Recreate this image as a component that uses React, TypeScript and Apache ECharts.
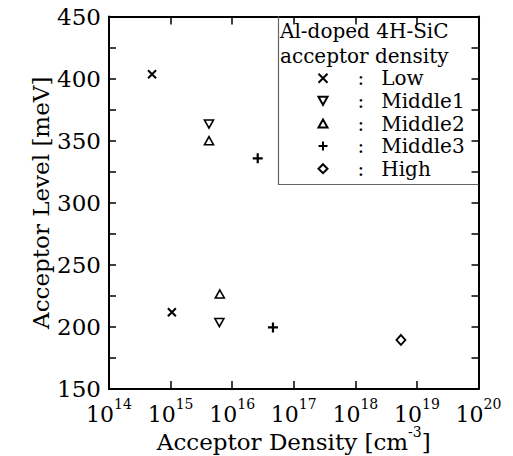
import React, { useEffect, useRef } from "react";
import * as echarts from "echarts";

const FONT = "DejaVu Serif";

// Series values: [acceptor density (cm^-3), acceptor level (meV)]
const lowData = [
  [5.0e14, 403.5],
  [1.05e15, 211.8],
];
const middle1Data = [
  [4.2e15, 363.4],
  [6.2e15, 203.5],
];
const middle2Data = [
  [4.2e15, 350],
  [6.3e15, 226.5],
];
const middle3Data = [
  [2.6e16, 335.8],
  [4.6e16, 199.6],
];
const highData = [[5.5e18, 189.5]];

const seriesNames = ["Low", "Middle1", "Middle2", "Middle3", "High"];
const xExponents = ["14", "15", "16", "17", "18", "19", "20"];
const yTickLabels = [150, 200, 250, 300, 350, 400, 450];
const legendTitle = ["Al-doped 4H-SiC", "acceptor density"];

export default function App() {
  const ref = useRef<HTMLDivElement>(null);
  useEffect(() => {
    document.body.style.margin = "0";
    if (!ref.current) return;
    const chart = echarts.init(ref.current, undefined, { renderer: "svg" });

    const strokeStyle = (w: number, fill: string) => ({
      color: fill,
      borderColor: "#000",
      borderWidth: w,
      opacity: 1,
    });

    const option: any = {
      animation: false,
      backgroundColor: "#fff",
      textStyle: { fontFamily: FONT, color: "#000" },
      grid: {
        left: 109,
        right: 34.5,
        top: 16.5,
        bottom: 67,
        containLabel: false,
        outerBoundsMode: "none",
      },
      xAxis: [
        {
          type: "log",
          logBase: 10,
          min: 1e14,
          max: 1e20,
          interval: 1,
          position: "bottom",
          name: "{a|Acceptor Density [cm}{s|-3}{a|]}",
          nameLocation: "middle",
          nameGap: 36,
          nameMoveOverlap: false,
          nameTextStyle: {
            fontFamily: FONT,
            fontSize: 23,
            color: "#000",
            rich: {
              a: { fontFamily: FONT, fontSize: 23, color: "#000", padding: [5, 0, 0, 0] },
              s: { fontFamily: FONT, fontSize: 14, color: "#000", verticalAlign: "top" },
            },
          },
          axisLine: { show: true, lineStyle: { color: "#000", width: 2 } },
          axisTick: { show: true, inside: true, length: 8, lineStyle: { color: "#000", width: 1.5 } },
          minorTick: { show: false },
          splitLine: { show: false },
          axisLabel: {
            margin: 8,
            fontFamily: FONT,
            fontSize: 22,
            color: "#000",
            formatter: (v: number) => {
              const idx = Math.round(Math.log10(v)) - 14;
              return `{b|10}{s|${xExponents[idx] ?? ""}}`;
            },
            rich: {
              b: { fontFamily: FONT, fontSize: 22, color: "#000", padding: [6, 0, 0, 0] },
              s: { fontFamily: FONT, fontSize: 14, color: "#000", verticalAlign: "top" },
            },
          },
        },
        {
          type: "log",
          logBase: 10,
          min: 1e14,
          max: 1e20,
          interval: 1,
          position: "top",
          axisLine: { show: true, lineStyle: { color: "#000", width: 2 } },
          axisTick: { show: true, inside: true, length: 8, lineStyle: { color: "#000", width: 1.5 } },
          axisLabel: { show: false },
          splitLine: { show: false },
        },
      ],
      yAxis: [
        {
          type: "value",
          min: 150,
          max: 450,
          interval: 25,
          position: "left",
          name: "Acceptor Level [meV]",
          nameLocation: "middle",
          nameGap: 57,
          nameMoveOverlap: false,
          nameTextStyle: { fontFamily: FONT, fontSize: 23, color: "#000" },
          axisLine: { show: true, lineStyle: { color: "#000", width: 2 } },
          axisTick: { show: true, inside: true, length: 7, lineStyle: { color: "#000", width: 1.5 } },
          splitLine: { show: false },
          axisLabel: {
            margin: 8,
            fontFamily: FONT,
            fontSize: 23,
            color: "#000",
            formatter: (v: number) => (yTickLabels.includes(v) ? String(v) : ""),
          },
        },
        {
          type: "value",
          min: 150,
          max: 450,
          interval: 25,
          position: "right",
          axisLine: { show: true, lineStyle: { color: "#000", width: 2 } },
          axisTick: { show: true, inside: true, length: 7, lineStyle: { color: "#000", width: 1.5 } },
          axisLabel: { show: false },
          splitLine: { show: false },
        },
      ],
      legend: {
        show: true,
        orient: "vertical",
        left: 316,
        top: 68.3,
        padding: 0,
        itemWidth: 9,
        itemHeight: 9,
        itemGap: 2.6,
        selectedMode: false,
        z: 10,
        data: seriesNames,
        formatter: (name: string) => `{c|:}{t|${name}}`,
        textStyle: {
          fontFamily: FONT,
          fontSize: 20,
          color: "#000",
          rich: {
            c: { fontFamily: FONT, fontSize: 20, lineHeight: 20, color: "#000", padding: [0, 17, 0, 25] },
            t: { fontFamily: FONT, fontSize: 20, lineHeight: 20, color: "#000" },
          },
        },
      },
      graphic: [
        {
          type: "polyline",
          z: 1,
          shape: {
            points: [
              [278.5, 16.5],
              [278.5, 184.5],
              [478.5, 184.5],
            ],
          },
          style: { stroke: "#666", lineWidth: 1.2, fill: "none" },
        },
        ...legendTitle.map((t, i) => ({
          type: "text",
          z: 10,
          x: 280,
          y: 31 + i * 25,
          style: {
            text: t,
            fontFamily: FONT,
            fontSize: 20,
            fill: "#000",
            verticalAlign: "middle",
            align: "left",
          },
        })),
      ],
      series: [
        {
          name: "Low",
          type: "scatter",
          data: lowData,
          symbol: "path://M0,0L10,10M10,0L0,10",
          symbolSize: 8,
          itemStyle: strokeStyle(2, "none"),
        },
        {
          name: "Middle1",
          type: "scatter",
          data: middle1Data,
          symbol: "path://M0,0L10,0L5,9Z",
          symbolSize: [9, 8],
          itemStyle: strokeStyle(1.6, "#fff"),
        },
        {
          name: "Middle2",
          type: "scatter",
          data: middle2Data,
          symbol: "path://M5,0L10,9L0,9Z",
          symbolSize: [9, 8],
          itemStyle: strokeStyle(1.6, "#fff"),
        },
        {
          name: "Middle3",
          type: "scatter",
          data: middle3Data,
          symbol: "path://M5,0L5,10M0,5L10,5",
          symbolSize: 10,
          itemStyle: strokeStyle(2.2, "none"),
        },
        {
          name: "High",
          type: "scatter",
          data: highData,
          symbol: "diamond",
          symbolSize: [9, 10],
          itemStyle: strokeStyle(1.8, "#fff"),
        },
      ],
    };
    chart.setOption(option);
    return () => chart.dispose();
  }, []);
  return <div ref={ref} style={{ width: 513, height: 456 }} />;
}
